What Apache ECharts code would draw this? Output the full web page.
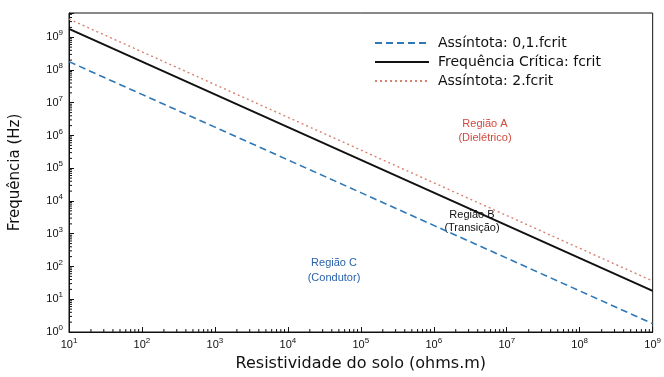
<!DOCTYPE html>
<html>
<head>
<meta charset="utf-8">
<script src="https://cdn.jsdelivr.net/npm/echarts@6/dist/echarts.min.js"></script>
<style>
  html, body { margin: 0; padding: 0; background: #fff; }
  #chart { width: 664px; height: 377px; }
</style>
</head>
<body>
<div id="chart"></div>
<script>
// Soil resistivity (ohm.m) at each decade
const resistivity = [1e1, 1e2, 1e3, 1e4, 1e5, 1e6, 1e7, 1e8, 1e9];
// Critical frequency fcrit (Hz)
const fCrit = [1.8e9, 1.8e8, 1.8e7, 1.8e6, 1.8e5, 1.8e4, 1.8e3, 1.8e2, 1.8e1];
// Lower asymptote 0,1.fcrit (Hz)
const fLow = [1.8e8, 1.8e7, 1.8e6, 1.8e5, 1.8e4, 1.8e3, 1.8e2, 1.8e1, 1.8];
// Upper asymptote 2.fcrit (Hz)
const fHigh = [3.6e9, 3.6e8, 3.6e7, 3.6e6, 3.6e5, 3.6e4, 3.6e3, 3.6e2, 3.6e1];

const seriesNames = ['Assíntota: 0,1.fcrit', 'Frequência Crítica: fcrit', 'Assíntota: 2.fcrit'];
const xRange = [1e1, 1e9];
const yRange = [1e0, 5.5e9];

// minor tick values (2..9 within each decade) for both log axes
function minorValues(lo, hi) {
  const out = [];
  for (let d = Math.floor(Math.log10(lo)); d <= Math.ceil(Math.log10(hi)); d++) {
    for (let m = 2; m <= 9; m++) {
      const v = m * Math.pow(10, d);
      if (v > lo && v < hi) out.push(v);
    }
  }
  return out;
}
const xMinor = minorValues(xRange[0], xRange[1]);
const yMinor = minorValues(yRange[0], yRange[1]);

function powLabel(v) {
  const l = Math.log10(v);
  const e = Math.round(l);
  if (Math.abs(l - e) > 1e-6) return '';
  return '{b|10}{e|' + e + '}';
}
const FONT = 'Liberation Sans, Arial, sans-serif';
const WIDE = 'DejaVu Sans, Verdana, sans-serif';
const powRich = {
  b: { fontSize: 11, fontFamily: FONT, color: '#111' },
  e: { fontSize: 8, fontFamily: FONT, color: '#111', padding: [0, 0, 8, 0] }
};

const chart = echarts.init(document.getElementById('chart'), null, { renderer: 'canvas' });

const pair = (xs, ys) => xs.map((x, i) => [x, ys[i]]);

chart.setOption({
  animation: false,
  backgroundColor: '#fff',
  grid: { left: 68, right: 10, top: 13, bottom: 44, show: true, borderColor: '#111', borderWidth: 1 },
  legend: {
    data: seriesNames,
    orient: 'vertical',
    left: 369,
    top: 31,
    itemWidth: 54,
    itemHeight: 14,
    itemGap: 5,
    itemStyle: { opacity: 0 },
    textStyle: { fontSize: 14, fontFamily: WIDE, color: '#111', padding: [0, 0, 0, 4] }
  },
  xAxis: {
    type: 'log',
    logBase: 10,
    min: xRange[0],
    max: xRange[1],
    name: 'Resistividade do solo (ohms.m)',
    nameLocation: 'middle',
    nameGap: 24,
    nameTextStyle: { fontSize: 16, fontFamily: WIDE, color: '#111' },
    axisLine: { lineStyle: { color: '#111', width: 1 } },
    axisTick: { inside: true, length: 5, lineStyle: { color: '#111' } },
    axisLabel: { formatter: powLabel, rich: powRich, margin: 5 },
    splitLine: { show: false }
  },
  yAxis: {
    type: 'log',
    logBase: 10,
    min: yRange[0],
    max: yRange[1],
    name: 'Frequência (Hz)',
    nameLocation: 'middle',
    nameGap: 46,
    nameTextStyle: { fontSize: 15, fontFamily: WIDE, color: '#111' },
    axisLine: { lineStyle: { color: '#111', width: 1 } },
    axisTick: { inside: true, length: 5, lineStyle: { color: '#111' } },
    axisLabel: { formatter: powLabel, rich: powRich, margin: 6 },
    splitLine: { show: false }
  },
  series: [
    {
      name: seriesNames[0], type: 'line', symbol: 'none', data: pair(resistivity, fLow),
      lineStyle: { color: '#2f78b5', width: 1.6, type: [7, 4] }, itemStyle: { color: '#2f78b5' }
    },
    {
      name: seriesNames[1], type: 'line', symbol: 'none', data: pair(resistivity, fCrit),
      lineStyle: { color: '#111', width: 2, type: 'solid' }, itemStyle: { color: '#111' }
    },
    {
      name: seriesNames[2], type: 'line', symbol: 'none', data: pair(resistivity, fHigh),
      lineStyle: { color: '#d9806f', width: 1.4, type: [2, 3] }, itemStyle: { color: '#d9806f' }
    },
    {
      // minor ticks along the resistivity axis
      type: 'custom', silent: true, z: 5,
      data: xMinor.map(v => [v]),
      renderItem: (params, api) => {
        const p = api.coord([api.value(0), yRange[0]]);
        return { type: 'line', shape: { x1: p[0], y1: p[1], x2: p[0], y2: p[1] - 3 }, style: { stroke: '#111', lineWidth: 1 } };
      }
    },
    {
      // minor ticks along the frequency axis
      type: 'custom', silent: true, z: 5,
      data: yMinor.map(v => [xRange[0], v]),
      renderItem: (params, api) => {
        const p = api.coord([xRange[0], api.value(1)]);
        return { type: 'line', shape: { x1: p[0], y1: p[1], x2: p[0] + 3, y2: p[1] }, style: { stroke: '#111', lineWidth: 1 } };
      }
    }
  ],
  graphic: [
    { type: 'text', x: 485, y: 131, style: { text: 'Região A\n(Dielétrico)', fill: '#cf4a3d', fontSize: 11, lineHeight: 14, align: 'center', verticalAlign: 'middle', fontFamily: FONT } },
    { type: 'text', x: 472, y: 221, style: { text: 'Região B\n(Transição)', fill: '#111', fontSize: 11, lineHeight: 13, align: 'center', verticalAlign: 'middle', fontFamily: FONT } },
    { type: 'text', x: 334, y: 270, style: { text: 'Região C\n(Condutor)', fill: '#2a62ad', fontSize: 11, lineHeight: 15, align: 'center', verticalAlign: 'middle', fontFamily: FONT } }
  ]
});
</script>
</body>
</html>
